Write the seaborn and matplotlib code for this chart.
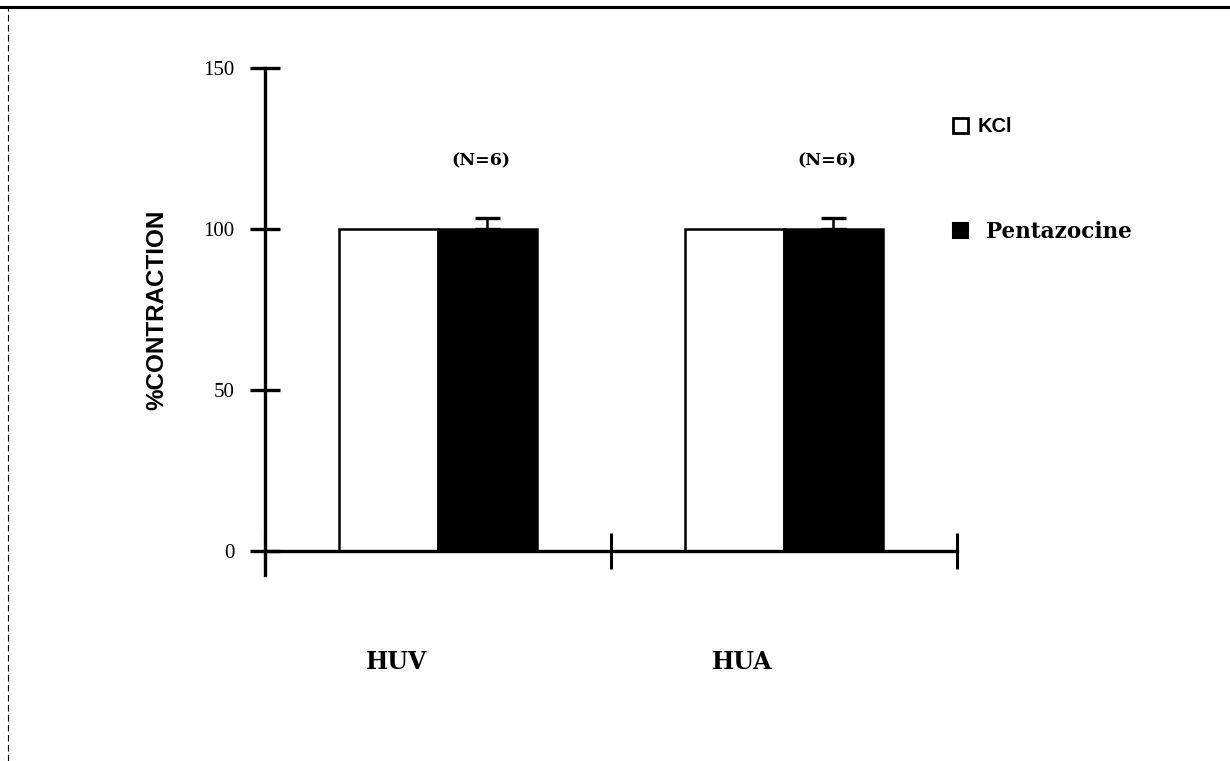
import numpy as np
import pandas as pd
import matplotlib
matplotlib.use("Agg")
import matplotlib.pyplot as plt
from matplotlib.lines import Line2D
from matplotlib.patches import Patch
import seaborn as sns

# ---- data ----
tissues = ["HUV", "HUA"]
agents = ["KCl", "Pentazocine"]
kcl_values = [100.0, 100.0]
pentazocine_values = [100.0, 100.0]
pentazocine_sem = [3.4, 3.4]
n_labels = ["(N=6)", "(N=6)"]
y_ticks = [0, 50, 100, 150]

df = pd.DataFrame({
    "tissue": tissues * 2,
    "agent": [agents[0]] * 2 + [agents[1]] * 2,
    "value": kcl_values + pentazocine_values,
})

sns.set_style("white")
plt.rcParams["font.family"] = ["Liberation Serif", "DejaVu Serif"]
for k in ["text.color", "axes.labelcolor", "xtick.color", "ytick.color"]:
    plt.rcParams[k] = "black"

SERIF_B = ["DejaVu Serif", "Liberation Serif"]
SANS = ["Liberation Sans", "DejaVu Sans"]

fig = plt.figure(figsize=(12.3, 7.61), dpi=100)
ax = fig.add_axes([265 / 1230, 1 - 575 / 761, 692 / 1230, (575 - 68) / 761])

sns.barplot(data=df, x="tissue", y="value", hue="agent", order=tissues,
            hue_order=agents, palette={"KCl": "white", "Pentazocine": "black"},
            edgecolor="black", linewidth=1.8, width=0.57, errorbar=None,
            legend=False, ax=ax)

# error bars on Pentazocine bars (upper only)
pent_patches = [p for p in ax.patches if p.get_facecolor()[0] < 0.5][:len(tissues)]
pent_patches = sorted(pent_patches, key=lambda p: p.get_x())
for p, v, e in zip(pent_patches, pentazocine_values, pentazocine_sem):
    cx = p.get_x() + p.get_width() / 2
    ax.errorbar(cx, v, yerr=[[0], [e]], fmt="none", ecolor="black",
                elinewidth=1.8, capsize=9, capthick=2.4, zorder=5)

for i, lab in enumerate(n_labels):
    p = pent_patches[i]
    cx = p.get_x() + p.get_width() / 2
    ax.text(cx - 0.02, 121, lab, ha="center", va="center", fontsize=12.5,
            fontweight="bold", family=SERIF_B)

ax.set_xlim(-0.5, len(tissues) - 0.5)
ax.set_ylim(-7.5, 150)
ax.spines["bottom"].set_position(("data", 0))
ax.spines["top"].set_visible(False)
ax.spines["right"].set_visible(False)
for s in ["left", "bottom"]:
    ax.spines[s].set_linewidth(2.4)
    ax.spines[s].set_color("black")

ax.set_xticks(np.arange(-0.5, len(tissues), 1.0))
ax.set_xticklabels([])
ax.tick_params(axis="x", direction="inout", length=26, width=2.2, color="black", bottom=True)
ax.set_yticks(y_ticks)
ax.set_yticklabels([str(t) for t in y_ticks], fontsize=15)
ax.tick_params(axis="y", direction="inout", length=22, width=2.4, color="black",
               left=True, pad=11)
ax.set_xlabel("")
ax.set_ylabel("%CONTRACTION", fontsize=17.5, fontweight="bold", family=SANS)
ax.yaxis.set_label_coords(-0.140, (75 + 7.5) / 157.5)

for i, t in enumerate(tissues):
    ax.text(i - 0.12, -34.5, t, ha="center", va="center", fontsize=17,
            fontweight="bold", family=SERIF_B, clip_on=False)

h_kcl = Patch(facecolor="white", edgecolor="black", linewidth=2.0)
h_pen = Patch(facecolor="black", edgecolor="black", linewidth=1.5)
leg1 = fig.legend([h_kcl], [agents[0]], loc="center left",
                  bbox_to_anchor=(953 / 1230, 1 - 127 / 761), frameon=False,
                  borderpad=0, borderaxespad=0, handlelength=0.75, handleheight=0.75,
                  handletextpad=0.45, prop={"family": SANS, "weight": "bold", "size": 14.5})
leg2 = fig.legend([h_pen], [agents[1]], loc="center left",
                  bbox_to_anchor=(953 / 1230, 1 - 232 / 761), frameon=False,
                  borderpad=0, borderaxespad=0, handlelength=0.68, handleheight=0.68,
                  handletextpad=0.85, prop={"family": SERIF_B, "weight": "bold", "size": 15.5})

# page border lines from the scanned page
fig.add_artist(Line2D([0, 1], [1 - 7 / 761, 1 - 7 / 761], transform=fig.transFigure,
                      color="black", linewidth=2.2))
fig.add_artist(Line2D([8 / 1230, 8 / 1230], [0, 1 - 7 / 761], transform=fig.transFigure,
                      color="black", linewidth=0.8, linestyle=(0, (6, 3))))

fig.savefig("out.png", dpi=100, facecolor="white")
